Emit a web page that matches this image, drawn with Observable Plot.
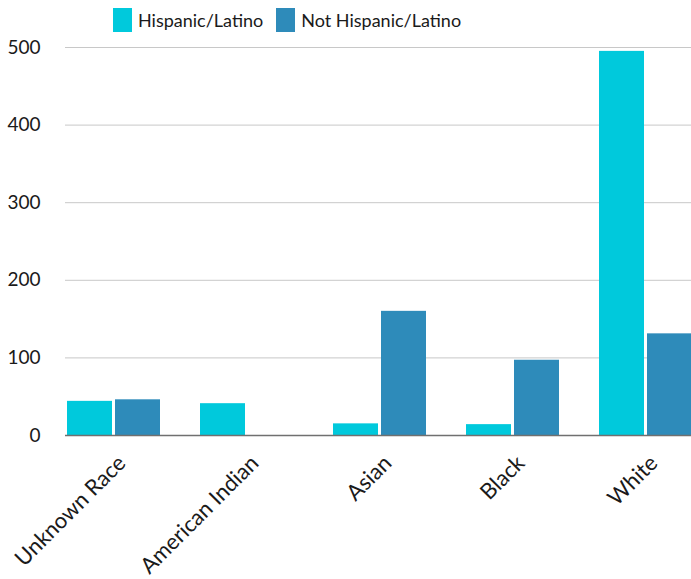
<!DOCTYPE html>
<html><head><meta charset="utf-8">
<script src="https://cdn.jsdelivr.net/npm/d3@7"></script>
<script src="https://cdn.jsdelivr.net/npm/@observablehq/plot@0.6"></script>
<style>
html,body{margin:0;background:#fff;overflow:hidden}
body{font-family:Lato,sans-serif;color:#1a1a1a;width:691px;height:579px;position:relative}
#legend{position:absolute;left:113px;top:8px;display:flex;align-items:center;font-size:18px;white-space:nowrap}
#legend .sw{display:inline-block;width:19px;height:24px;margin-right:6px}
#legend .item{display:flex;align-items:center;margin-right:13px}
#chart{position:absolute;left:0;top:36px}
</style></head><body>
<div id="legend"></div><div id="chart"></div>
<script>
const races = ["Unknown Race","American Indian","Asian","Black","White"];
const groups = ["Hispanic/Latino","Not Hispanic/Latino"];
const hispanic = [44,41,15,14,495];
const notHispanic = [46,0,160,97,131];
const colors = ["#00c9dc","#2e8bba"];
const yTicks = [0,100,200,300,400,500];

const hispData = races.map((r,i)=>({race:r, group:groups[0], value:hispanic[i]}));
const notData = races.map((r,i)=>({race:r, group:groups[1], value:notHispanic[i]}));

const legend = document.getElementById("legend");
groups.forEach((g,i)=>{
  const it = document.createElement("div"); it.className="item";
  const sw = document.createElement("span"); sw.className="sw"; sw.style.background=colors[i];
  it.appendChild(sw); it.appendChild(document.createTextNode(g));
  legend.appendChild(it);
});

const chart = Plot.plot({
  width: 691, height: 543,
  marginTop: 11, marginBottom: 144, marginLeft: 65, marginRight: -4,
  style: {fontFamily: "Lato, sans-serif", fontSize: "18px", color: "#1a1a1a", overflow: "visible"},
  x: {domain: races, paddingInner: 0.2985, paddingOuter: 0, label: null},
  y: {domain: [0,500], ticks: yTicks, label: null},
  color: {domain: groups, range: colors},
  marks: [
    Plot.gridY(yTicks, {stroke: "#c8c8c8", strokeOpacity: 1, strokeWidth: 1}),
    Plot.axisY(yTicks, {tickSize: 0, tickPadding: 25, fontSize: 19, label: null}),
    Plot.axisX({tickSize: 0, tickRotate: -45, tickPadding: 24, dx: 8, fontSize: 22, label: null}),
    Plot.barY(hispData, {x: "race", y: "value", fill: "group", insetRight: 48}),
    Plot.barY(notData, {x: "race", y: "value", fill: "group", insetLeft: 48}),
    Plot.ruleY([0], {stroke: "#707070", strokeWidth: 1.5})
  ]
});
document.getElementById("chart").appendChild(chart);
</script></body></html>
